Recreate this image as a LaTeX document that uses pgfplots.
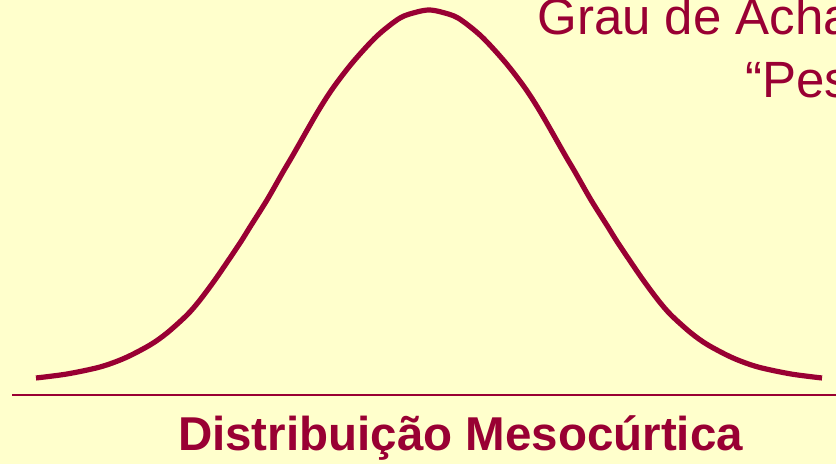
\documentclass[border=0pt]{standalone}
\usepackage{fontspec}
\setmainfont{Liberation Sans}
\usepackage{pgfplots}
\pgfplotsset{compat=1.18}
\definecolor{bg}{HTML}{FFFFCC}
\definecolor{wine}{HTML}{990033}
\begin{document}
\begin{tikzpicture}
\useasboundingbox (0,0) rectangle (418pt,232pt);
\fill[bg] (0,0) rectangle (418pt,232pt);
\clip (0,0) rectangle (418pt,232pt);
\begin{axis}[at={(0,0)}, anchor=south west, scale only axis, width=418pt, height=232pt,
  xmin=0, xmax=836, ymin=0, ymax=464, hide axis, clip=false]
% bell curve (pixel x, height above the bottom edge)
\addplot[wine, line width=2.6pt, smooth] coordinates {
  (36,86) (67,90) (100,97) (125,106) (150,119) (167,131) (187,149) (200,164)
  (217,187) (240,221) (250,237) (267,264) (283,292) (293,309) (317,351) (333,376)
  (353,402) (377,428) (400,446) (417,452) (429,454)
  (441,452) (458,446) (481,428) (505,402) (525,376) (541,351) (565,309) (575,292)
  (591,264) (608,237) (618,221) (641,187) (658,164) (671,149) (691,131) (708,119)
  (733,106) (758,97) (791,90) (822,86)};
\draw[wine, line width=1pt] (axis cs:12,69) -- (axis cs:840,69);
\node[wine, anchor=base, inner sep=0pt, font=\fontsize{23.75pt}{28pt}\selectfont\bfseries]
  at (axis cs:460.5,13) {Distribuição Mesocúrtica};
\node[wine, anchor=base west, inner sep=0pt, font=\fontsize{25.5pt}{30pt}\selectfont]
  at (axis cs:537,429) {Grau de Achatamento};
\node[wine, anchor=base west, inner sep=0pt, font=\fontsize{25.5pt}{30pt}\selectfont]
  at (axis cs:745,366) {“Peso das caudas”};
\end{axis}
\end{tikzpicture}
\end{document}
